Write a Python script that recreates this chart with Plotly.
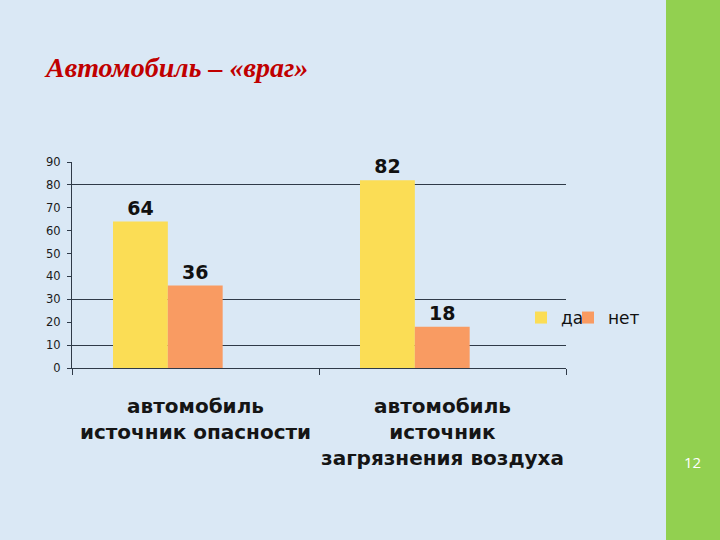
import plotly.graph_objects as go

categories = ["автомобиль<br>источник опасности",
              "автомобиль<br>источник<br>загрязнения воздуха"]
series_names = ["да", "нет"]
yes_values = [64, 82]
no_values = [36, 18]
y_ticks = [0, 10, 20, 30, 40, 50, 60, 70, 80, 90]
grid_values = [10, 30, 80]

W, H = 720, 540
def px_x(p):
    return p / W
def px_y(p):
    return 1 - p / H

fig = go.Figure()
fig.add_trace(go.Bar(
    x=categories, y=yes_values, name=series_names[0], legend="legend",
    marker=dict(color="#FBDD55", line=dict(width=0)),
    width=0.222, offset=-0.334,
    text=[str(v) for v in yes_values], textposition="outside",
    textfont=dict(family="DejaVu Sans", size=19, color="#111111", weight="bold"),
    cliponaxis=False,
))
fig.add_trace(go.Bar(
    x=categories, y=no_values, name=series_names[1], legend="legend2",
    marker=dict(color="#F99B62", line=dict(width=0)),
    width=0.222, offset=-0.112,
    text=[str(v) for v in no_values], textposition="outside",
    textfont=dict(family="DejaVu Sans", size=19, color="#111111", weight="bold"),
    cliponaxis=False,
))
# invisible trace to host the gridline axis
fig.add_trace(go.Scatter(x=[None], y=[None], yaxis="y2", showlegend=False,
                         hoverinfo="skip"))

axis_color = "#2F3A48"
legend_font = dict(family="DejaVu Sans", size=17, color="#111111")
fig.update_layout(
    width=W, height=H,
    margin=dict(l=0, r=0, t=0, b=0, autoexpand=False),
    paper_bgcolor="#DAE8F5",
    plot_bgcolor="rgba(0,0,0,0)",
    showlegend=True,
    legend=dict(x=px_x(521), y=px_y(318), yanchor="middle", xanchor="left",
                font=legend_font, itemwidth=30, bgcolor="rgba(0,0,0,0)"),
    legend2=dict(x=px_x(568), y=px_y(318), yanchor="middle", xanchor="left",
                 font=legend_font, itemwidth=30, bgcolor="rgba(0,0,0,0)"),
    xaxis=dict(
        domain=[px_x(72), px_x(566)],
        type="category",
        range=[-0.5, 1.5],
        tickson="boundaries",
        tickangle=0,
        showline=True, linecolor=axis_color, linewidth=1,
        ticks="outside", ticklen=6, tickcolor=axis_color,
        showgrid=False, zeroline=False, automargin=False,
        tickfont=dict(family="DejaVu Sans", size=20, color="#151515", weight="bold"),
        ticklabelstandoff=20,
    ),
    yaxis=dict(
        domain=[px_y(368), px_y(162)],
        range=[0, 90], tickmode="array", tickvals=y_ticks,
        showline=True, linecolor=axis_color, linewidth=1,
        ticks="outside", ticklen=4, tickcolor=axis_color,
        showgrid=False, zeroline=False, automargin=False,
        tickfont=dict(family="DejaVu Sans", size=11.5, color="#1a1a1a"),
        ticklabelstandoff=4,
    ),
    yaxis2=dict(
        overlaying="y", matches="y", range=[0, 90],
        tickmode="array", tickvals=grid_values, showticklabels=False,
        showgrid=True, gridcolor=axis_color, gridwidth=1, automargin=False,
        showline=False, zeroline=False, ticks="",
    ),
    shapes=[dict(type="rect", xref="paper", yref="paper",
                 x0=px_x(666), x1=1, y0=0, y1=1,
                 fillcolor="#92D050", line=dict(width=0), layer="below")],
    annotations=[
        dict(text="Автомобиль – «враг»", xref="paper", yref="paper",
             x=px_x(42), y=px_y(67), xanchor="left", yanchor="middle",
             showarrow=False,
             font=dict(family="Liberation Serif", size=28, color="#C00000",
                       weight="bold", style="italic")),
        dict(text="12", xref="paper", yref="paper",
             x=px_x(692), y=px_y(462), xanchor="center", yanchor="middle",
             showarrow=False,
             font=dict(family="Open Sans", size=15, color="#FFFFFF")),
    ],
)

fig.write_html("out.html")
